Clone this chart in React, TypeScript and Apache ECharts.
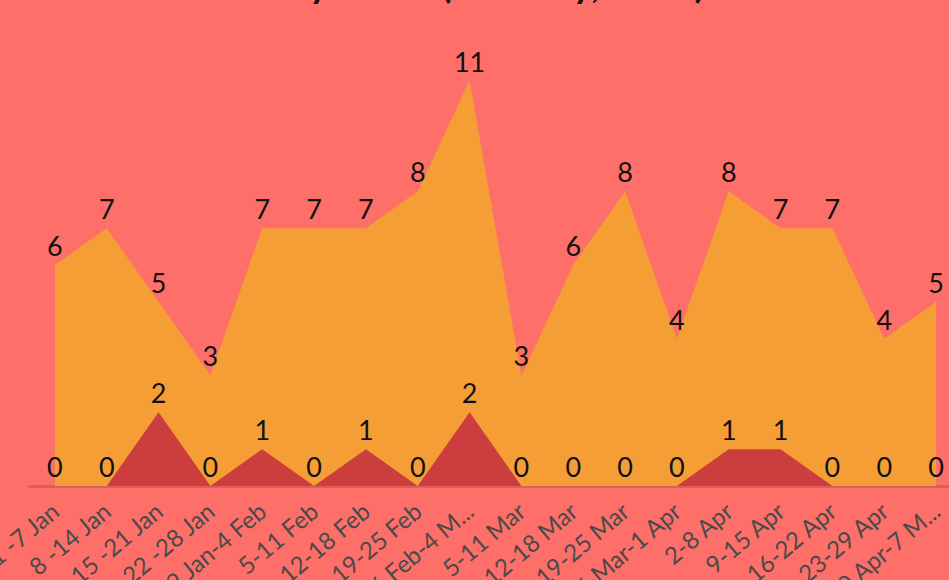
import React, { useEffect, useRef } from "react";
import * as echarts from "echarts";

const categories = [
  "1 -7 Jan", "8 -14 Jan", "15 -21 Jan", "22 -28 Jan", "29 Jan-4 Feb", "5-11 Feb",
  "12-18 Feb", "19-25 Feb", "26 Feb-4 Mar", "5-11 Mar", "12-18 Mar", "19-25 Mar",
  "26 Mar-1 Apr", "2-8 Apr", "9-15 Apr", "16-22 Apr", "23-29 Apr", "30 Apr-7 May",
];
const totalValues = [6, 7, 5, 3, 7, 7, 7, 8, 11, 3, 6, 8, 4, 8, 7, 7, 4, 5];
const smallValues = [0, 0, 2, 0, 1, 0, 1, 0, 2, 0, 0, 0, 0, 1, 1, 0, 0, 0];
const titleText = "Weekly Cases (Jan-May, 2024)";

const AXIS_FONT = 24;

function labelWidthLimit(): number {
  // width limit between the widest label kept whole and the narrowest one cut
  // (zrender reserves 1px of the given width)
  try {
    const ctx = document.createElement("canvas").getContext("2d");
    if (ctx) {
      ctx.font = `${AXIS_FONT}px Lato`;
      const keep = Math.max(
        ctx.measureText("26 Mar-1 Apr").width,
        ctx.measureText("29 Jan-4 Feb").width
      );
      const cut = Math.min(
        ctx.measureText("26 Feb-4 Mar").width,
        ctx.measureText("30 Apr-7 May").width
      );
      if (cut > keep) return (keep + cut) / 2 + 1;
      return keep + 1.01;
    }
  } catch (e) {}
  return 141;
}

export default function App() {
  const ref = useRef<HTMLDivElement>(null);
  useEffect(() => {
    if (!ref.current) return;
    const chart = echarts.init(ref.current, null, { renderer: "svg" });
    const labelStyle = {
      show: true,
      position: "top",
      distance: 6,
      color: "#111",
      fontSize: 27,
      fontFamily: "Lato",
    };
    chart.setOption({
      animation: false,
      backgroundColor: "#FF6F69",
      textStyle: { fontFamily: "Lato" },
      title: {
        text: titleText,
        left: 199,
        top: -40,
        textStyle: { fontFamily: "Lato", fontWeight: "bold", fontSize: 37, color: "#111" },
      },
      grid: { left: 29, right: 18, top: 44, bottom: 94, containLabel: false, outerBoundsMode: "none" },
      xAxis: {
        type: "category",
        data: categories,
        boundaryGap: true,
        axisTick: { show: false },
        axisLine: { lineStyle: { color: "#D9605C", width: 3 } },
        axisLabel: {
          interval: 0,
          rotate: 40,
          margin: 21,
          color: "#4a4a4a",
          fontSize: AXIS_FONT,
          fontFamily: "Lato",
          overflow: "truncate",
          width: labelWidthLimit(),
        },
      },
      yAxis: { type: "value", min: 0, max: 12, show: false, splitLine: { show: false } },
      series: [
        {
          type: "line",
          data: totalValues,
          symbol: "circle",
          symbolSize: 0.1,
          itemStyle: { color: "#F59E35" },
          lineStyle: { width: 0 },
          areaStyle: { color: "#F59E35", opacity: 1 },
          label: labelStyle,
          z: 2,
        },
        {
          type: "line",
          data: smallValues,
          symbol: "circle",
          symbolSize: 0.1,
          itemStyle: { color: "#CC3D3D" },
          lineStyle: { width: 0 },
          areaStyle: { color: "#CC3D3D", opacity: 1 },
          label: labelStyle,
          z: 3,
        },
      ],
    });
    return () => chart.dispose();
  }, []);
  return (
    <div style={{ position: "fixed", left: 0, top: 0, width: 949, height: 580, overflow: "hidden" }}>
      <div ref={ref} style={{ width: 980, height: 580 }} />
    </div>
  );
}
